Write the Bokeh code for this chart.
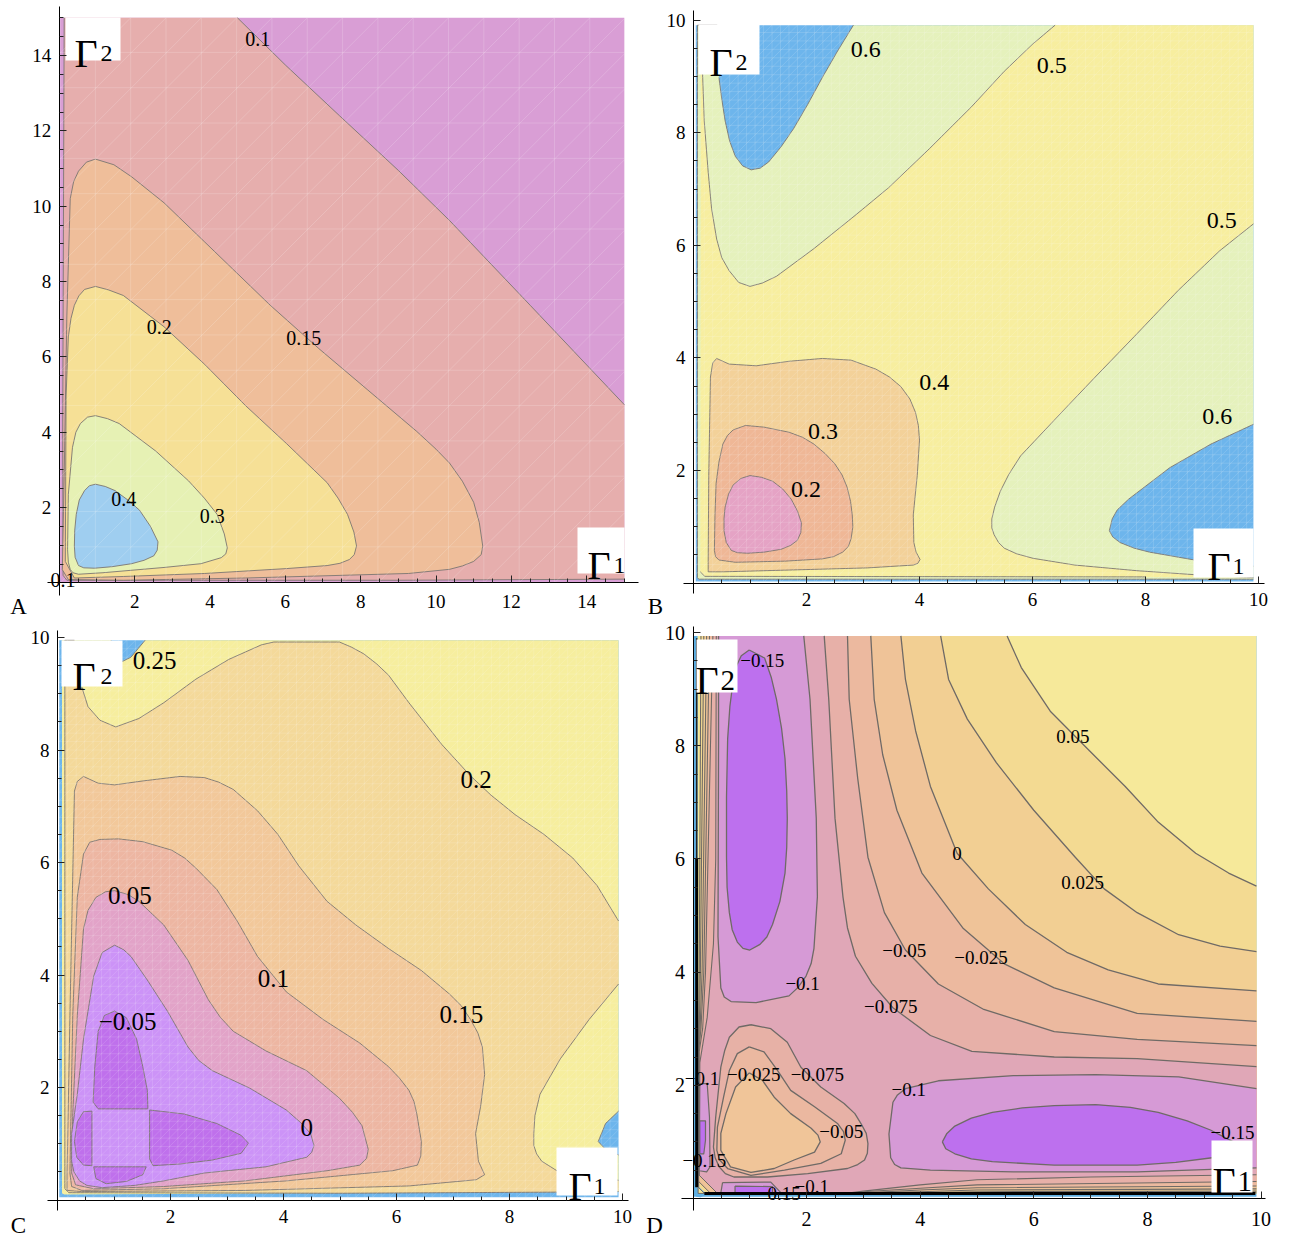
import numpy as np
from bokeh.plotting import figure
from bokeh.layouts import column, row
from bokeh.models import Range1d, FixedTicker
from bokeh.core.properties import value
from bokeh.embed import file_html
from bokeh.resources import INLINE

SERIF = "Liberation Serif"

# ---------- tick labels ----------
TICKS_15 = [2, 4, 6, 8, 10, 12, 14]
TICKS_10 = [2, 4, 6, 8, 10]
MINOR_15 = [i * 0.5 for i in range(1, 31) if i % 4]
MINOR_10 = [i * 0.5 for i in range(1, 20) if i % 4]

# ---------- panel A contours (Gamma1, Gamma2) ----------
A_010_CURVE = [(4.73,15),(6,13.75),(7.44,12.4),(9,10.95),(10.36,9.62),(12.5,7.37),(15,4.73)]
A_010_INSET = [(15,0.1),(9,0.07),(0.2,0.07),(0.1,0.2),(0.09,4),(0.13,15)]
A_015 = [(0.96,11.25),(1.45,11.1),(1.92,10.78),(2.78,10.09),(3.86,9.05),(5.6,7.37),(6.89,6.22),(8.19,5.12),(9.49,4.02),(10.0,3.55),(10.36,3.18),(10.7,2.7),(11.0,2.14),(11.15,1.6),(11.24,0.98),(11.2,0.75),(11.0,0.57),(10.7,0.45),(10.36,0.36),(9.27,0.25),(4.95,0.13),(1.7,0.07),(0.24,0.09),(0.08,0.35),(0.13,2.87),(0.2,7.06),(0.29,10.2),(0.38,10.65),(0.51,10.93),(0.72,11.17)]
A_020 = [(0.96,7.87),(1.3,7.78),(1.7,7.63),(2.78,6.8),(3.86,5.8),(4.95,4.7),(6.03,3.7),(7.11,2.66),(7.4,2.25),(7.65,1.82),(7.82,1.35),(7.89,0.98),(7.83,0.75),(7.7,0.62),(7.45,0.52),(7.11,0.46),(6.03,0.38),(3.86,0.25),(1.7,0.17),(0.4,0.13),(0.16,0.57),(0.18,4.96),(0.24,6.53),(0.31,7.02),(0.4,7.37),(0.52,7.62),(0.67,7.79)]
A_030 = [(0.96,4.44),(1.28,4.36),(1.59,4.23),(2.56,3.5),(3.43,2.71),(3.85,2.25),(4.19,1.82),(4.38,1.3),(4.46,0.93),(4.42,0.77),(4.3,0.67),(3.76,0.51),(2.78,0.41),(1.16,0.27),(0.51,0.23),(0.36,0.27),(0.29,0.36),(0.24,0.55),(0.22,0.88),(0.24,2.35),(0.35,3.6),(0.44,4.0),(0.56,4.23),(0.75,4.4)]
A_040 = [(0.96,2.62),(1.22,2.56),(1.48,2.45),(1.82,2.2),(2.13,1.93),(2.42,1.5),(2.62,1.09),(2.6,0.87),(2.51,0.72),(2.25,0.6),(1.92,0.51),(1.4,0.43),(0.94,0.39),(0.65,0.4),(0.51,0.46),(0.42,0.68),(0.4,0.98),(0.41,1.4),(0.45,1.82),(0.53,2.2),(0.67,2.45),(0.8,2.58)]
A_LABELS = ["0.1", "0.15", "0.2", "0.3", "0.4", "0.1"]
A_LABEL_X = [5.27, 6.49, 2.65, 4.06, 1.71, 0.1]
A_LABEL_Y = [14.44, 6.5, 6.8, 1.78, 2.22, 0.07]

# ---------- panel B contours ----------
B_060_UL = [(0.45,8.98),(0.5,8.6),(0.56,8.21),(0.64,7.85),(0.74,7.58),(0.87,7.41),(1.02,7.34),(1.18,7.37),(1.33,7.48),(1.55,7.75),(1.77,8.07),(2.02,8.5),(2.28,8.98),(2.55,9.45),(2.83,9.91)]
B_060_LR = [(9.91,2.82),(9.16,2.47),(8.43,2.05),(7.7,1.49),(7.5,1.3),(7.41,1.14),(7.36,0.93),(7.42,0.82),(7.55,0.72),(7.8,0.62),(8.07,0.55),(8.87,0.41),(9.91,0.3)]
B_060_INSET = [(9.91,0.07),(0.09,0.07),(0.07,0.1),(0.07,9.91),(0.42,9.91)]
B_050_UL = [(0.13,9.91),(0.19,8.21),(0.26,7.3),(0.32,6.65),(0.41,6.11),(0.5,5.78),(0.63,5.55),(0.8,5.34),(1.0,5.27),(1.22,5.33),(1.47,5.45),(2.13,5.94),(2.86,6.53),(3.45,7.02),(4.18,7.72),(4.92,8.46),(5.5,9.09),(6.01,9.58),(6.4,9.91)]
B_050_LR = [(9.91,6.38),(9.31,5.9),(8.58,5.2),(7.85,4.43),(7.11,3.66),(6.38,2.89),(5.79,2.26),(5.58,1.93),(5.43,1.63),(5.33,1.35),(5.28,1.14),(5.28,0.98),(5.32,0.86),(5.4,0.72),(5.5,0.62),(5.72,0.52),(6.01,0.44),(6.75,0.32),(7.85,0.22),(8.86,0.15),(9.91,0.1)]
B_050_INSET = [(8,0.11),(0.2,0.12),(0.12,0.2)]
B_040 = [(0.41,3.99),(0.63,3.89),(1.11,3.86),(1.69,3.94),(2.28,3.99),(2.79,3.96),(3.23,3.8),(3.47,3.66),(3.67,3.49),(3.83,3.27),(3.93,3.03),(3.98,2.8),(4.0,2.54),(3.96,1.91),(3.89,1.21),(3.9,0.72),(3.94,0.55),(4.01,0.42),(3.97,0.35),(3.89,0.32),(3.08,0.27),(1.62,0.23),(0.52,0.2),(0.26,0.2),(0.26,0.37),(0.27,1.91),(0.3,3.66),(0.34,3.91)]
B_030 = [(0.92,2.8),(1.25,2.77),(1.69,2.68),(1.93,2.59),(2.13,2.47),(2.33,2.3),(2.5,2.12),(2.63,1.92),(2.72,1.7),(2.78,1.45),(2.81,1.21),(2.82,1.0),(2.79,0.79),(2.74,0.65),(2.64,0.55),(2.48,0.47),(2.28,0.43),(1.62,0.39),(0.74,0.37),(0.45,0.41),(0.39,0.47),(0.37,0.58),(0.38,1.2),(0.4,1.77),(0.45,2.15),(0.52,2.47),(0.6,2.62),(0.7,2.72)]
B_020 = [(1.0,1.91),(1.2,1.88),(1.4,1.81),(1.58,1.67),(1.73,1.49),(1.84,1.28),(1.91,1.07),(1.9,0.9),(1.84,0.76),(1.72,0.67),(1.55,0.6),(1.25,0.55),(0.96,0.53),(0.78,0.54),(0.67,0.58),(0.58,0.72),(0.54,0.93),(0.54,1.15),(0.56,1.35),(0.62,1.58),(0.7,1.74),(0.84,1.86)]
B_LABELS = ["0.6", "0.5", "0.5", "0.4", "0.3", "0.2", "0.6"]
B_LABEL_X = [3.05, 6.34, 9.35, 4.26, 2.29, 1.99, 9.27]
B_LABEL_Y = [9.47, 9.19, 6.44, 3.56, 2.7, 1.67, 2.96]

# ---------- panel C contours ----------
C_025_TOP = [(0.95,9.95),(0.9,9.6),(1.1,9.55),(1.3,9.65),(1.55,9.95)]
C_025_LR = [(9.93,1.58),(9.7,1.36),(9.57,1.04),(9.7,0.9),(9.93,0.8)]
C_025_INSET = [(9.93,0.15),(0.12,0.1),(0.08,0.12),(0.08,9.95)]
C_020_CURVE = [(0.43,9.12),(0.54,8.77),(0.75,8.53),(1.03,8.41),(1.44,8.56),(1.88,8.84),(2.45,9.26),(3.03,9.61),(3.61,9.87),(3.83,9.92),(4.99,9.92),(5.2,9.83),(5.42,9.71),(5.65,9.53),(5.86,9.33),(6.22,8.84),(6.8,8.1),(7.3,7.55),(7.67,7.2),(8.1,6.85),(8.61,6.5),(9.12,6.08),(9.55,5.59),(9.93,4.96)]
C_020_LOWER = [(9.93,3.84),(9.41,3.21),(8.9,2.51),(8.54,1.88),(8.45,1.5),(8.43,1.18),(8.43,0.97),(8.48,0.82),(8.57,0.69),(8.84,0.52),(9.93,0.35)]
C_020_INSET = [(9.93,0.15),(8.84,0.14),(5,0.12),(0.2,0.13),(0.13,0.2),(0.13,9.95),(0.3,9.95)]
C_015 = [(0.46,7.53),(0.72,7.41),(1.01,7.38),(1.51,7.45),(2.17,7.53),(2.6,7.51),(2.85,7.43),(3.11,7.3),(3.54,6.92),(3.9,6.5),(4.27,5.94),(4.77,5.31),(5.28,4.89),(5.86,4.47),(6.44,4.08),(6.94,3.66),(7.15,3.45),(7.31,3.21),(7.44,2.97),(7.52,2.72),(7.56,2.23),(7.49,1.67),(7.4,1.18),(7.45,0.69),(7.56,0.45),(7.41,0.36),(6.22,0.25),(3.32,0.17),(0.43,0.15),(0.17,0.17),(0.17,0.48),(0.22,3.28),(0.3,7.27),(0.35,7.44)]
C_010 = [(0.75,6.41),(1.08,6.42),(1.51,6.37),(2.02,6.22),(2.25,6.08),(2.45,5.9),(2.82,5.52),(3.18,4.96),(3.54,4.33),(4.05,3.7),(4.7,3.21),(5.35,2.79),(5.86,2.37),(6.05,2.17),(6.22,1.95),(6.31,1.75),(6.36,1.53),(6.44,1.04),(6.43,0.78),(6.37,0.62),(5.93,0.52),(4.05,0.34),(1.88,0.2),(0.43,0.17),(0.25,0.24),(0.22,0.48),(0.27,3.28),(0.35,5.38),(0.46,6.15),(0.57,6.36)]
C_005 = [(1.01,5.5),(1.25,5.43),(1.44,5.31),(1.88,4.89),(2.31,4.26),(2.67,3.56),(2.88,3.25),(3.11,3.0),(3.69,2.65),(4.41,2.3),(4.99,1.81),(5.22,1.56),(5.39,1.32),(5.5,0.9),(5.47,0.74),(5.35,0.62),(4.77,0.52),(3.32,0.34),(1.88,0.24),(0.64,0.2),(0.32,0.27),(0.25,0.48),(0.27,1.53),(0.35,3.28),(0.46,4.82),(0.54,5.15),(0.68,5.38),(0.85,5.48)]
C_000 = [(1.01,4.53),(1.17,4.45),(1.3,4.33),(1.59,3.91),(1.95,3.35),(2.31,2.72),(2.5,2.48),(2.74,2.3),(3.4,1.99),(4.05,1.6),(4.3,1.38),(4.48,1.18),(4.54,0.97),(4.5,0.85),(4.41,0.76),(3.69,0.59),(2.6,0.48),(1.88,0.34),(1.37,0.26),(0.79,0.22),(0.52,0.26),(0.39,0.34),(0.29,0.5),(0.25,0.69),(0.25,1.18),(0.35,1.88),(0.46,2.86),(0.64,3.98),(0.79,4.4)]
C_M05_TOP = [(1.01,3.36),(1.22,3.24),(1.4,2.86),(1.51,2.37),(1.59,1.95),(1.6,1.62),(0.72,1.62),(0.63,1.74),(0.66,2.37),(0.72,3.0),(0.83,3.28)]
C_M05_RIGHT = [(1.63,1.6),(2.24,1.53),(2.82,1.36),(3.25,1.15),(3.38,1.01),(3.25,0.83),(2.74,0.71),(2.17,0.64),(1.69,0.61),(1.63,0.73)]
C_M05_LEFT = [(0.61,1.58),(0.46,1.57),(0.35,1.39),(0.3,1.04),(0.34,0.76),(0.46,0.62),(0.61,0.61)]
C_M05_BOTTOM = [(0.64,0.59),(1.57,0.59),(1.51,0.45),(1.22,0.33),(0.86,0.29),(0.68,0.38)]
C_LABELS = ["0.25", "0.2", "0.05", "0.1", "0.15", "\u22120.05", "0"]
C_LABEL_X = [1.72, 7.41, 1.28, 3.82, 7.15, 1.24, 4.41]
C_LABEL_Y = [9.59, 7.48, 5.41, 3.93, 3.3, 3.17, 1.29]

# ---------- panel D contours ----------
D_P050 = [(5.53,9.94),(5.78,9.38),(6.29,8.61),(6.98,7.91),(7.61,7.28),(8.19,6.65),(8.85,6.1),(9.43,5.75),(9.92,5.52)]
D_P025 = [(4.36,9.94),(4.5,9.17),(4.83,8.47),(5.34,7.7),(6.0,6.86),(6.73,6.03),(7.24,5.47),(7.82,5.05),(8.55,4.66),(9.28,4.46),(9.92,4.36)]
D_000 = [(3.66,9.94),(3.74,9.17),(3.92,8.26),(4.18,7.28),(4.65,6.1),(5.2,5.47),(5.85,4.84),(6.58,4.35),(7.31,4.04),(8.19,3.79),(9.92,3.67)]
D_M025 = [(3.13,9.94),(3.19,8.82),(3.34,7.84),(3.59,6.86),(4.03,5.75),(4.76,4.77),(5.49,4.14),(6.36,3.72),(7.82,3.27),(9.92,3.13)]
D_M050 = [(2.72,9.94),(2.75,8.82),(2.9,7.42),(3.08,6.03),(3.37,5.05),(3.74,4.39),(4.32,3.79),(5.12,3.34),(6.36,2.95),(7.82,2.81),(9.92,2.7)]
D_M075 = [(2.31,9.94),(2.39,8.82),(2.5,6.72),(2.64,5.33),(2.72,4.78),(2.86,4.28),(3.15,3.8),(3.52,3.37),(4.18,2.88),(4.91,2.6),(6.36,2.5),(7.82,2.47),(9.92,2.33)]
D_P050_IN = [(9.92,0.1),(5,0.1),(4,0.09),(3,0.09),(0.12,0.09),(0.1,0.12),(0.1,3),(0.11,4),(0.14,9.94)]
D_P025_IN = [(9.92,0.13),(5,0.12),(4,0.1),(3,0.09),(0.12,0.09),(0.1,0.12),(0.11,3),(0.13,4),(0.19,9.94)]
D_000_IN = [(9.92,0.17),(5,0.15),(4,0.12),(3,0.1),(0.12,0.09),(0.1,0.12),(0.125,3),(0.16,4),(0.24,9.94)]
D_M025_IN = [(9.92,0.22),(5,0.19),(4,0.15),(3,0.1),(0.12,0.09),(0.11,0.12),(0.11,2.7),(0.14,3),(0.19,4),(0.29,9.94)]
D_M050_IN = [(9.92,0.3),(5,0.24),(4,0.18),(3,0.12),(0.12,0.09),(0.11,0.12),(0.11,2.6),(0.17,3),(0.22,4),(0.35,9.94)]
D_M075_IN = [(9.92,0.42),(7,0.38),(5,0.33),(4,0.24),(3,0.13),(2.7,0.09),(0.12,0.09),(0.11,0.12),(0.12,2.4),(0.25,3.2),(0.36,4.5),(0.4,6),(0.41,9.94)]
D_M100_UL = [(1.95,9.94),(2.06,8.82),(2.17,6.72),(2.19,5.33),(2.13,4.42),(2.08,4.15),(1.99,3.93),(1.85,3.73),(1.69,3.58),(1.11,3.46),(0.67,3.48),(0.55,3.56),(0.49,3.72),(0.44,4.63),(0.45,8.12),(0.45,9.94)]
D_M100_LR = [(9.92,1.94),(8.55,2.15),(7.09,2.19),(5.64,2.17),(4.32,2.08),(3.74,1.94),(3.6,1.83),(3.52,1.7),(3.45,1.14),(3.48,0.72),(3.55,0.6),(3.66,0.54),(4.18,0.5),(5.64,0.47),(7.82,0.47),(9.92,0.54)]
D_M100_LEFT = [(0.12,2.03),(0.25,2.03),(0.29,1.44),(0.3,0.56),(0.24,0.47),(0.11,0.49)]
D_M100_BOTTOM = [(0.52,0.28),(1.37,0.29),(1.55,0.1),(0.49,0.1)]
D_M150_UL = [(0.99,9.69),(1.26,9.55),(1.38,9.2),(1.47,8.82),(1.56,8.3),(1.62,7.77),(1.65,7.2),(1.66,6.72),(1.65,6.2),(1.62,5.75),(1.53,5.25),(1.4,4.84),(1.3,4.62),(1.18,4.49),(1.0,4.39),(0.88,4.42),(0.78,4.53),(0.69,4.75),(0.64,5.05),(0.6,5.5),(0.59,6.03),(0.59,7.1),(0.61,8.12),(0.65,8.7),(0.71,9.17),(0.77,9.42),(0.85,9.59)]
D_M150_LR = [(4.39,1.0),(4.47,1.15),(4.61,1.28),(4.9,1.42),(5.27,1.52),(5.8,1.6),(6.36,1.64),(7.09,1.66),(7.7,1.61),(8.19,1.52),(8.7,1.37),(9.11,1.21),(9.65,0.93),(9.14,0.72),(8.5,0.64),(7.82,0.59),(6.36,0.59),(5.27,0.65),(4.9,0.7),(4.61,0.79),(4.45,0.88)]
D_M150_LEFT = [(0.12,1.37),(0.22,1.37),(0.22,1.03),(0.19,0.79),(0.12,0.79)]
D_M150_BOTTOM = [(0.74,0.22),(1.4,0.21),(1.4,0.1),(0.74,0.1)]
D_ISLE_OUT = [(1.02,3.07),(1.37,3.0),(1.66,2.76),(1.9,2.32),(2.25,1.97),(2.66,1.68),(2.85,1.5),(2.96,1.32),(3.05,1.15),(3.08,0.97),(3.07,0.8),(3.02,0.68),(2.9,0.6),(2.72,0.53),(2.02,0.44),(1.31,0.38),(0.72,0.38),(0.57,0.44),(0.46,0.56),(0.39,0.72),(0.36,0.91),(0.4,1.44),(0.49,2.32),(0.56,2.62),(0.64,2.85),(0.81,3.03)]
D_ISLE_MID = [(0.99,2.68),(1.25,2.59),(1.49,2.26),(1.72,1.91),(2.14,1.62),(2.55,1.32),(2.65,1.18),(2.68,1.03),(2.61,0.79),(2.25,0.62),(1.61,0.5),(1.02,0.41),(0.61,0.53),(0.47,0.68),(0.42,0.85),(0.43,1.26),(0.54,1.8),(0.64,2.26),(0.78,2.56)]
D_ISLE_IN = [(0.99,2.22),(1.22,2.09),(1.43,1.79),(1.72,1.5),(2.08,1.24),(2.2,1.12),(2.24,1.0),(2.14,0.82),(1.78,0.68),(1.43,0.53),(1.02,0.46),(0.66,0.56),(0.49,0.85),(0.49,1.15),(0.58,1.5),(0.75,1.97)]
D_CORNER_BLUE = [(0.03,0.1),(0.06,0.04),(0.13,0.03),(0.19,0.06),(0.2,0.1),(0.1,0.2)]
D_CORNER_1 = [(0.1,0.1),(0.42,0.1),(0.1,0.42)]
D_CORNER_2 = [(0.1,0.1),(0.3,0.1),(0.1,0.3)]
D_CORNER_3 = [(0.09,0.09),(0.2,0.09),(0.09,0.2)]
D_BLACK_BOTTOM = [(0.2,0.09),(9.9,0.09)]
D_BLACK_LEFT = [(0.065,0.2),(0.065,6)]
D_DARK_LEFT = [(0.065,6),(0.065,9.9)]
D_LABELS = ["0.05", "0", "0.025", "\u22120.05", "\u22120.025", "\u22120.1", "\u22120.075", "\u22120.15",
            "\u22120.1", "\u22120.025", "\u22120.075", "\u22120.05", "\u22120.1", "\u22120.15", "\u22120.15", "\u22120.1", "\u22120.15"]
D_LABEL_X = [6.69, 4.65, 6.86, 3.72, 5.07, 1.93, 3.48, 1.22, 0.16, 1.07, 2.19, 2.61, 3.8, 9.5, 0.2, 2.09, 1.51]
D_LABEL_Y = [8.16, 6.1, 5.59, 4.39, 4.25, 3.79, 3.39, 9.5, 2.12, 2.19, 2.19, 1.19, 1.92, 1.17, 0.68, 0.22, 0.08]


def split(pts):
    return [a for a, _ in pts], [b for _, b in pts]


class Panel:
    def __init__(self, box, x0, ux, y0, uy, ticks, minor, xext, yext, tick_size="19px", xstand=10):
        L, T, R, B = box
        self.x0, self.ux, self.y0, self.uy = x0, ux, y0, uy
        self.p = figure(width=R - L, height=B - T, output_backend="svg", toolbar_location=None,
                        x_range=Range1d((L - x0) / ux, (R - x0) / ux),
                        y_range=Range1d((y0 - B) / uy, (y0 - T) / uy),
                        min_border=0, outline_line_color=None)
        p = self.p
        p.grid.visible = False
        for ax, ext, conv, stand in ((p.xaxis[0], xext, self.dx, xstand), (p.yaxis[0], yext, self.dy, 8)):
            ax.fixed_location = 0
            ax.bounds = tuple(sorted((conv(ext[0]), conv(ext[1]))))
            ax.ticker = FixedTicker(ticks=ticks, minor_ticks=minor)
            ax.major_tick_in, ax.major_tick_out = 7, 0
            ax.minor_tick_in, ax.minor_tick_out = 4, 0
            ax.axis_line_color = "black"
            ax.major_tick_line_color = "#222222"
            ax.minor_tick_line_color = "#222222"
            ax.major_label_text_font = SERIF
            ax.major_label_text_font_size = tick_size
            ax.major_label_text_color = "black"
            ax.major_label_standoff = stand

    def dx(self, px):
        return (px - self.x0) / self.ux

    def dy(self, py):
        return (self.y0 - py) / self.uy

    def fill(self, pts, color):
        x, y = split(pts)
        self.p.patch(x, y, fill_color=color, fill_alpha=1, line_color=None)

    def stroke(self, pts, color="#7c7672", width=0.9):
        x, y = split(pts)
        self.p.line(x, y, line_color=color, line_width=width, line_join="round")

    def closed(self, pts, color, line="#7c7672", width=0.9):
        self.fill(pts, color)
        self.stroke(list(pts) + [pts[0]], line, width)

    def mesh(self, xr, yr, step, alpha, width=0.7):
        xs, ys = [], []
        for v in np.arange(xr[0], xr[1], step):
            xs.append([v, v]); ys.append([yr[0], yr[1]])
        for v in np.arange(yr[0], yr[1], step):
            xs.append([xr[0], xr[1]]); ys.append([v, v])
        for c in np.arange(xr[0] - yr[1], xr[1] - yr[0], step):
            a, b = max(xr[0], c + yr[0]), min(xr[1], c + yr[1])
            if b > a:
                xs.append([a, b]); ys.append([a - c, b - c])
        self.p.multi_line(xs, ys, line_color="white", line_alpha=alpha, line_width=width)

    def labels(self, xs, ys, texts, size):
        self.p.text(xs, ys, text=texts, text_font=value(SERIF), text_font_size=value(size),
                    text_align="center", text_baseline="middle", text_color="black")

    def white(self, l, t, r, b):
        self.p.quad(left=self.dx(l), right=self.dx(r), top=self.dy(t), bottom=self.dy(b),
                    fill_color="white", line_color=None)

    def gamma(self, gx, base, sub, sx, size, subsize):
        self.p.text([self.dx(gx)], [self.dy(base)], text=["\u0393"], text_font=value(SERIF),
                    text_font_size=value(size), text_align="left", text_baseline="alphabetic", text_color="black")
        self.p.text([self.dx(sx)], [self.dy(base)], text=[sub], text_font=value(SERIF),
                    text_font_size=value(subsize), text_align="left", text_baseline="alphabetic", text_color="black")

    def letter(self, text, px, py):
        self.p.text([self.dx(px)], [self.dy(py)], text=[text], text_font=value(SERIF),
                    text_font_size=value("23px"), text_align="center", text_baseline="middle", text_color="black")


# ---------- Panel A ----------
a = Panel((0, 0, 644, 620), 58.8, 37.67, 582.4, 37.67, TICKS_15, MINOR_15, (47, 638), (595, 6), xstand=12)
a.fill([(0.02, 0.02), (15, 0.02), (15, 15), (0.02, 15)], "#D99ED5")
a.fill(A_010_CURVE + A_010_INSET, "#E6AEAD")
a.stroke(A_010_CURVE)
a.stroke(A_010_INSET)
a.closed(A_015, "#EFBE9A")
a.closed(A_020, "#F6E096")
a.closed(A_030, "#E6F1B4")
a.closed(A_040, "#9FCEF0")
a.mesh((0.02, 15), (0.02, 15), 15 / 16, 0.25)
a.labels(A_LABEL_X, A_LABEL_Y, A_LABELS, "20px")
a.white(65, 17, 120, 60)
a.white(577, 527, 624, 573)
a.gamma(74, 53, "2", 100, "40px", "24px")
a.gamma(587, 565, "1", 613, "40px", "24px")
a.letter("A", 18, 606)

# ---------- Panel B ----------
b = Panel((644, 0, 1288, 620), 693, 56.5, 582.6, 56.3, TICKS_10, MINOR_10, (683, 1264), (593, 10))
b.fill([(0.04, 0.03), (9.91, 0.03), (9.91, 9.91), (0.04, 9.91)], "#6DB5EC")
b.fill(B_060_UL + [(9.91, 9.91)] + B_060_LR + B_060_INSET, "#E5F1BC")
b.stroke(B_060_UL)
b.stroke(B_060_LR)
b.stroke(B_060_INSET)
b.fill(B_050_UL + [(9.91, 9.91)] + B_050_LR + B_050_INSET, "#F7EE9F")
b.stroke(B_050_UL)
b.stroke(B_050_LR)
b.stroke(B_050_INSET)
b.closed(B_040, "#F3D199")
b.closed(B_030, "#EFB796")
b.closed(B_020, "#E5A3C5")
b.mesh((0.04, 9.91), (0.03, 9.91), 0.15, 0.2)
b.labels(B_LABEL_X, B_LABEL_Y, B_LABELS, "24px")
b.white(698, 24, 759, 74)
b.white(1193, 528, 1253, 577)
b.gamma(709, 62, "2", 735, "40px", "24px")
b.gamma(1207, 566, "1", 1232, "40px", "24px")
b.letter("B", 655, 606)

# ---------- Panel C ----------
c = Panel((0, 620, 644, 1238), 57, 56.5, 1199.5, 56.25, TICKS_10, MINOR_10, (47, 628), (1210, 630))
c.fill([(0.03, 0.05), (9.93, 0.05), (9.93, 9.95), (0.03, 9.95)], "#6DB5EC")
c.fill(C_025_TOP + [(9.93, 9.95)] + C_025_LR + C_025_INSET, "#F6EE9E")
c.stroke(C_025_TOP)
c.stroke(C_025_LR)
c.fill(C_020_CURVE + C_020_LOWER + C_020_INSET, "#F4D99A")
c.stroke(C_020_CURVE)
c.stroke(C_020_LOWER)
c.stroke(C_020_INSET)
c.closed(C_015, "#F2C89A")
c.closed(C_010, "#EDB6A2")
c.closed(C_005, "#E2A3C8")
c.closed(C_000, "#CC93F7")
c.closed(C_M05_TOP, "#BF70EC")
c.closed(C_M05_RIGHT, "#BF70EC")
c.closed(C_M05_LEFT, "#BF70EC")
c.closed(C_M05_BOTTOM, "#BF70EC")
c.mesh((0.03, 9.93), (0.05, 9.95), 0.15, 0.2)
c.labels(C_LABEL_X, C_LABEL_Y, C_LABELS, "25px")
c.white(61, 640, 122, 686)
c.white(556, 1147, 617, 1195)
c.gamma(72, 676, "2", 100, "40px", "24px")
c.gamma(568, 1186, "1", 593, "40px", "24px")
c.letter("C", 18, 1225)

# ---------- Panel D ----------
d = Panel((644, 620, 1288, 1238), 692.5, 56.8, 1198, 56.6, TICKS_10, MINOR_10, (681, 1265), (1210, 626), "20px", xstand=13)
LINE_D = "#6f6a66"
d.fill([(0.0, 0.03), (9.92, 0.03), (9.92, 9.94), (0.0, 9.94)], "#5FAFE2")
d.fill([(0.08, 0.08), (9.92, 0.08), (9.92, 9.94), (0.08, 9.94)], "#F6E99A")
for curve, inset, col in ((D_P050, D_P050_IN, "#F3DA92"), (D_P025, D_P025_IN, "#F2CF93"),
                          (D_000, D_000_IN, "#EFC398"), (D_M025, D_M025_IN, "#ECB99F"),
                          (D_M050, D_M050_IN, "#E7B0A8"), (D_M075, D_M075_IN, "#E0A7B7")):
    d.fill(curve + inset, col)
    d.stroke(curve, LINE_D, 1.3)
    d.stroke(inset, LINE_D, 1.1)
d.fill(D_M100_UL, "#D69AD6")
d.stroke(D_M100_UL, LINE_D, 1.3)
d.fill(D_M100_LR, "#D69AD6")
d.stroke(D_M100_LR, LINE_D, 1.3)
d.closed(D_M100_LEFT, "#D69AD6", LINE_D, 1.2)
d.closed(D_M100_BOTTOM, "#D69AD6", LINE_D, 1.2)
d.closed(D_M150_UL, "#BD70EE", LINE_D, 1.3)
d.closed(D_M150_LR, "#BD70EE", LINE_D, 1.3)
d.closed(D_M150_LEFT, "#BD70EE", LINE_D, 1.2)
d.closed(D_M150_BOTTOM, "#BD70EE", LINE_D, 1.2)
d.closed(D_ISLE_OUT, "#E7B1A6", LINE_D, 1.3)
d.closed(D_ISLE_MID, "#EBB8A0", LINE_D, 1.3)
d.closed(D_ISLE_IN, "#F0C599", LINE_D, 1.3)
d.closed(D_CORNER_1, "#EFC398", LINE_D, 1.0)
d.closed(D_CORNER_2, "#F3DA92", LINE_D, 1.0)
d.closed(D_CORNER_BLUE, "#5FAFE2", "#5FAFE2", 1.0)
d.closed(D_CORNER_3, "#F6E99A", LINE_D, 1.0)
d.stroke(D_BLACK_BOTTOM, "black", 3)
d.stroke(D_BLACK_LEFT, "black", 3)
d.stroke(D_DARK_LEFT, "#222222", 1.5)
d.labels(D_LABEL_X, D_LABEL_Y, D_LABELS, "19px")
d.white(696, 639, 737, 692)
d.white(1211, 1140, 1252, 1192)
d.gamma(695, 680, "2", 720, "40px", "29px")
d.gamma(1212, 1181, "1", 1237, "40px", "29px")
d.letter("D", 654, 1225)

layout = column(row(a.p, b.p, spacing=0), row(c.p, d.p, spacing=0), spacing=0)
open("out.html", "w").write(file_html(layout, INLINE))
